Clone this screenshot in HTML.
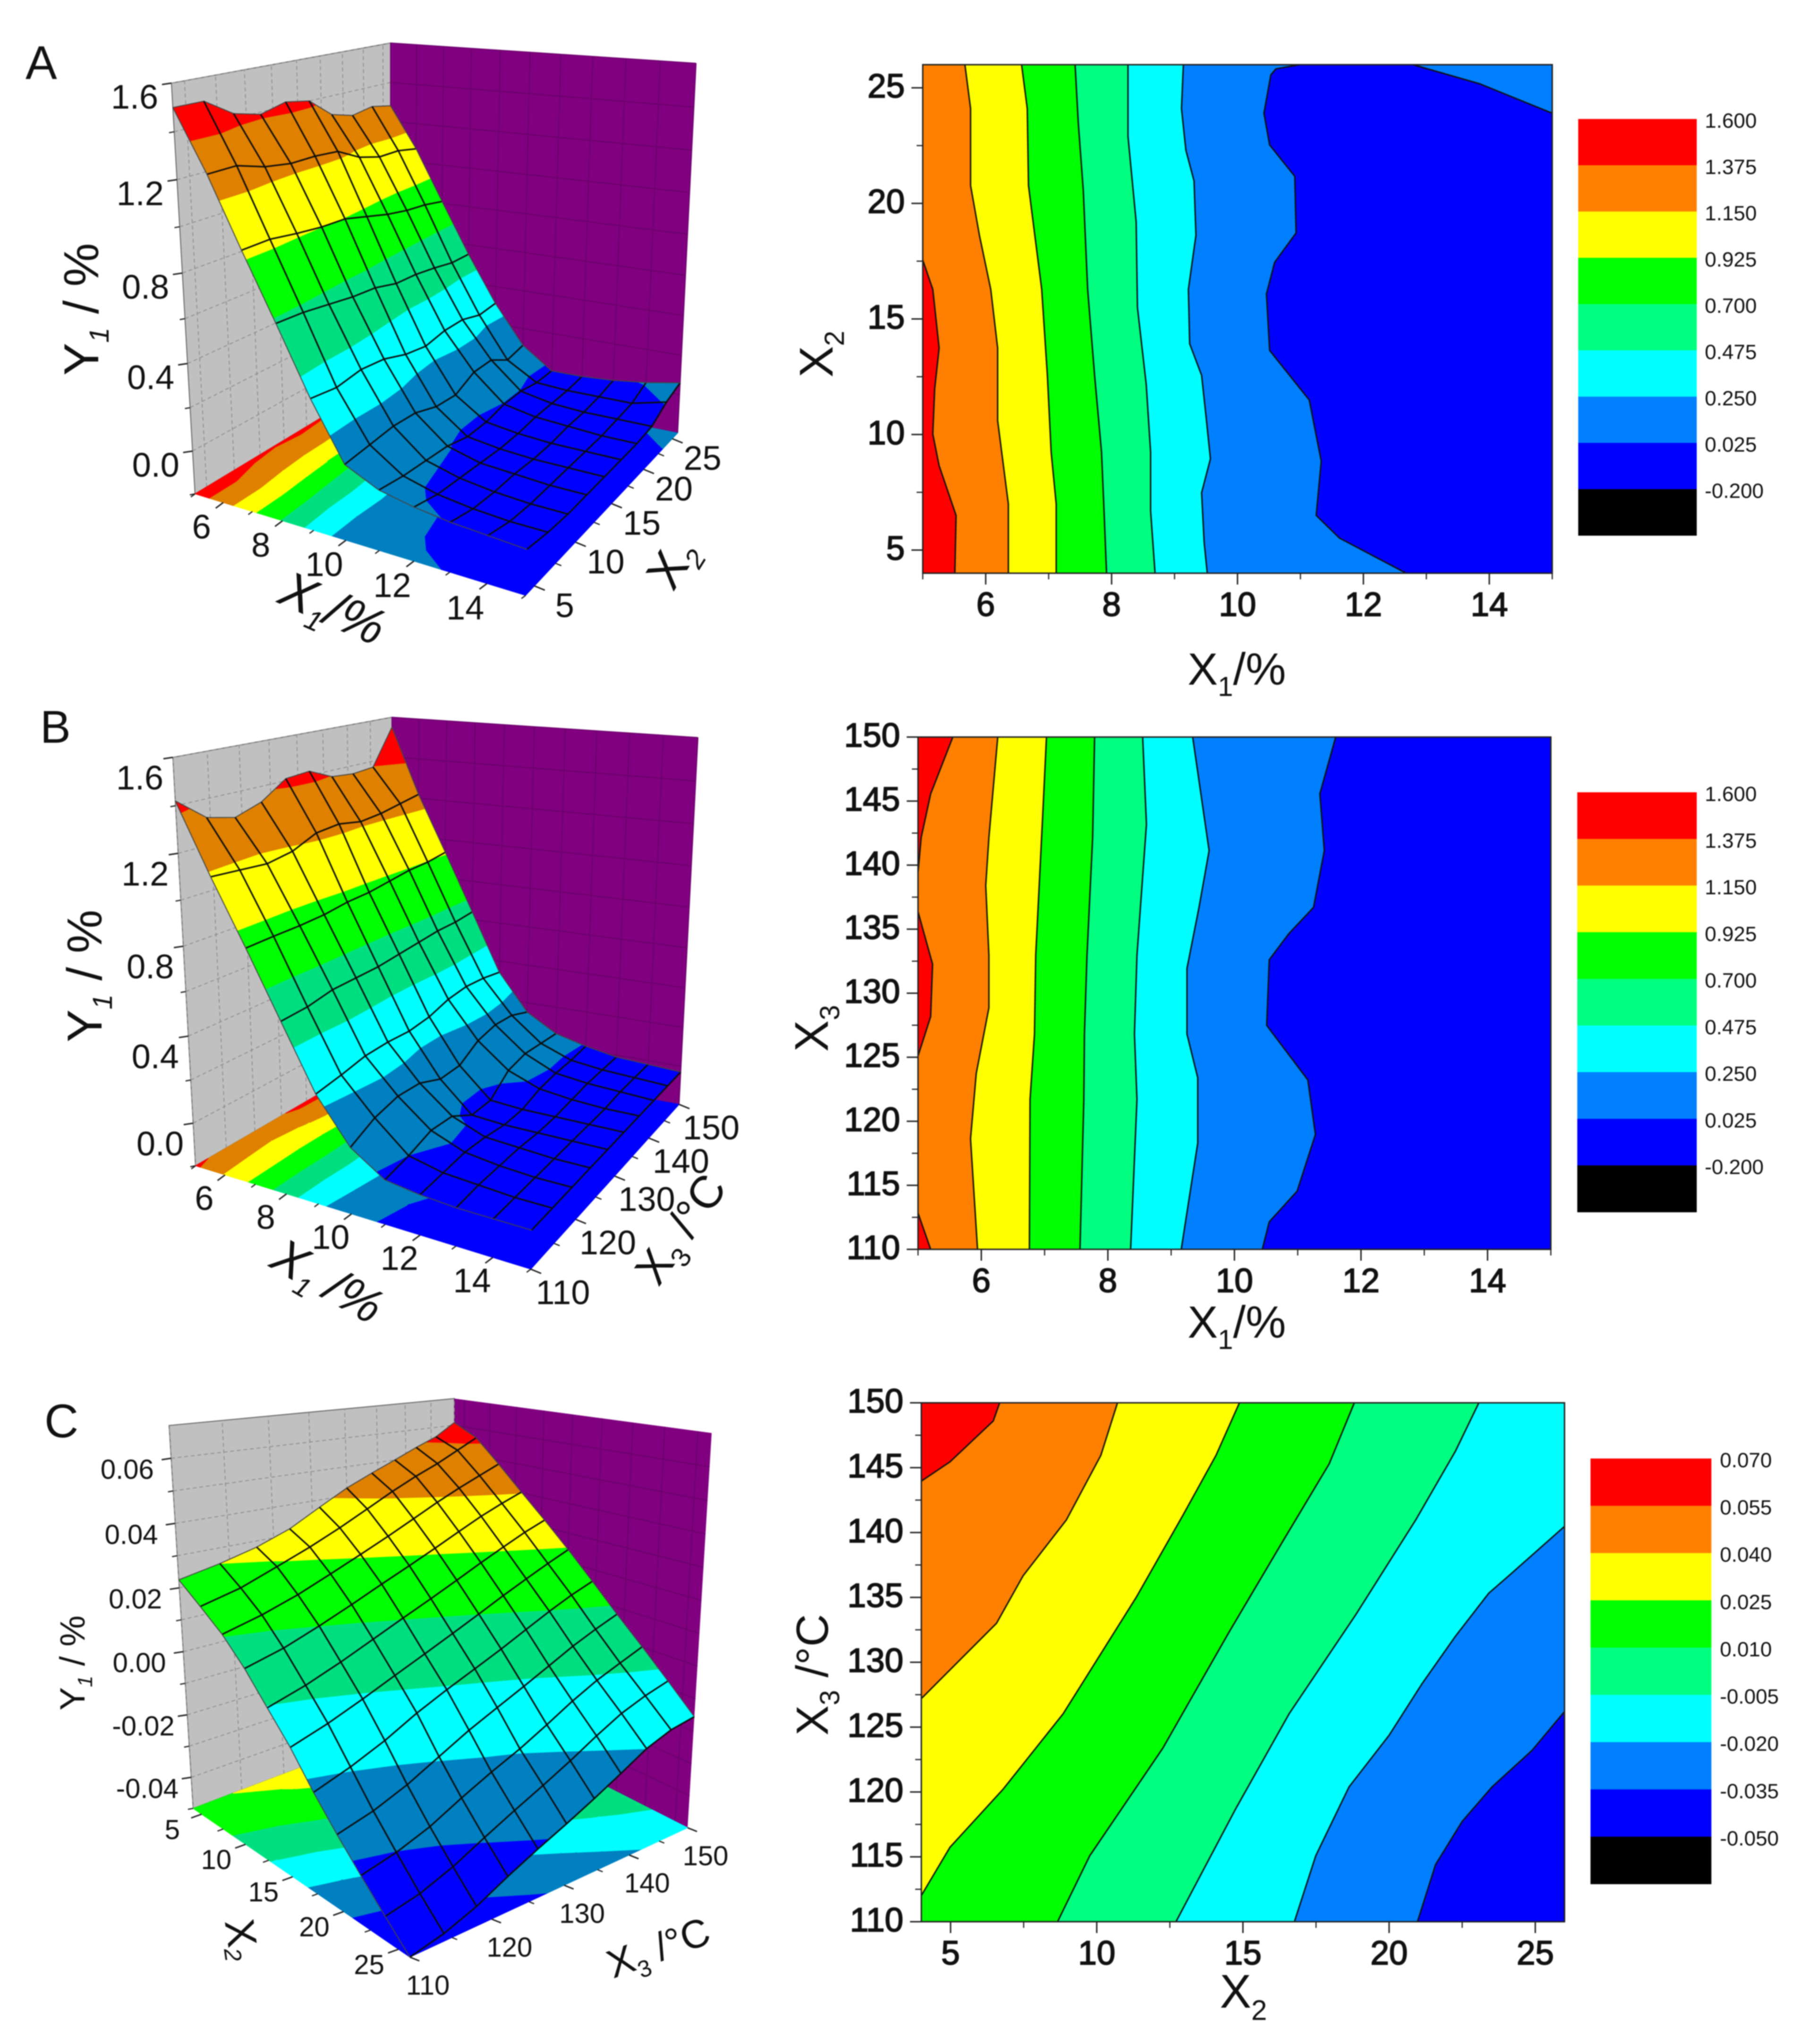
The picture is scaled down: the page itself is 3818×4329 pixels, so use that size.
<!DOCTYPE html>
<html lang="en">
<head>
<meta charset="utf-8">
<title>Response surface and contour plots</title>
<style>
html,body{margin:0;padding:0;background:#fff;}
#figure{display:block;width:3818px;height:4329px;filter:blur(1.1px);}
text{font-family:"Liberation Sans",sans-serif;fill:#111;}
</style>
</head>
<body>
<svg id="figure" xmlns="http://www.w3.org/2000/svg" width="3818" height="4329" viewBox="0 0 3818 4329">
<rect x="0" y="0" width="3818" height="4329" fill="#ffffff"/>

<g id="surfaceA"></g>
<g id="contourA"></g>
<g id="surfaceB"></g>
<g id="contourB"></g>
<g id="surfaceC"></g>
<g id="contourC"></g>

<text x="54" y="167" font-size="100">A</text>
<text x="85" y="1573" font-size="97">B</text>
<text x="94" y="3044" font-size="100">C</text>

<text transform="translate(208,655) rotate(-90)" text-anchor="middle" font-size="104">Y<tspan dy="22" font-size="58" font-style="italic">1</tspan><tspan dy="-22"> / %</tspan></text>
<text transform="translate(690,1322) rotate(24)" text-anchor="middle" font-size="108" font-style="italic">X<tspan dy="24" font-size="60">1</tspan><tspan dy="-24">/%</tspan></text>
<text transform="translate(1452,1212) rotate(-58)" text-anchor="middle" font-size="104">X<tspan dy="22" font-size="58" font-style="italic">2</tspan></text>

<text transform="translate(215,2067) rotate(-90)" text-anchor="middle" font-size="104">Y<tspan dy="22" font-size="58" font-style="italic">1</tspan><tspan dy="-22"> / %</tspan></text>
<text transform="translate(676,2744) rotate(30)" text-anchor="middle" font-size="104" font-style="italic">X<tspan dy="22" font-size="58">1</tspan><tspan dy="-22"> /%</tspan></text>
<text transform="translate(1468,2622) rotate(-55)" text-anchor="middle" font-size="96">X<tspan dy="22" font-size="58">3</tspan><tspan dy="-22"> /°C</tspan></text>

<text transform="translate(179,3522) rotate(-90)" text-anchor="middle" font-size="74">Y<tspan dy="16" font-size="44" font-style="italic">1</tspan><tspan dy="-16"> / %</tspan></text>
<text transform="translate(482,4112) rotate(82)" text-anchor="middle" font-size="88">X<tspan dy="10" font-size="50" font-style="italic">2</tspan></text>
<text transform="translate(1404,4152) rotate(-20)" text-anchor="middle" font-size="84">X<tspan dy="20" font-size="50">3</tspan><tspan dy="-20"> /°C</tspan></text>

<text x="2619" y="1450" text-anchor="middle" font-size="96">X<tspan dy="24" font-size="58">1</tspan><tspan dy="-24">/%</tspan></text>
<text transform="translate(1763,750) rotate(-90)" text-anchor="middle" font-size="100">X<tspan dy="24" font-size="58">2</tspan></text>

<text x="2619" y="2833" text-anchor="middle" font-size="96">X<tspan dy="24" font-size="58">1</tspan><tspan dy="-24">/%</tspan></text>
<text transform="translate(1753,2178) rotate(-90)" text-anchor="middle" font-size="100">X<tspan dy="24" font-size="58">3</tspan></text>

<text x="2633" y="4252" text-anchor="middle" font-size="100">X<tspan dy="26" font-size="60">2</tspan></text>
<text transform="translate(1753,3547) rotate(-90)" text-anchor="middle" font-size="96">X<tspan dy="24" font-size="58">3</tspan><tspan dy="-24"> /°C</tspan></text>
</svg>

<script>
/* ---------- shared data ---------- */
const contourColors = ['#0000ff','#0080ff','#00ffff','#00ff80','#00ff00','#ffff00','#ff8000','#ff0000'];
const surfaceColors = ['#0000ff','#0080c0','#00ffff','#00df80','#00ff00','#ffff00','#df8000','#ff0000'];
const legendColors = ['#ff0000','#ff8000','#ffff00','#00ff00','#00ff80','#00ffff','#0080ff','#0000ff','#000000'];

/* ---------- panel A data ---------- */
const aLevels = [0.025,0.25,0.475,0.7,0.925,1.15,1.375];
const aLegendLabels = ['1.600','1.375','1.150','0.925','0.700','0.475','0.250','0.025','-0.200'];
const aXTicks = [6,8,10,12,14];
const aXMinorTicks = [5,7,9,11,13,15];
const aYTicks = [5,10,15,20,25];
const aYMinorTicks = [7.5,12.5,17.5,22.5];
const aZTicks = [0,0.4,0.8,1.2,1.6];
const aZMinorTicks = [-0.2,0.2,0.6,1.0,1.4];
const aBoundaryRed = [[5,17.55],[5.16,16.28],[5.26,13.74],[5.19,11.98],[5.16,10.02],[5.26,8.65],[5.53,6.5],[5.51,4]];
const aBoundaryOrange = [[5.67,26],[5.76,24.1],[5.76,20.77],[5.9,18.62],[6.08,16.28],[6.19,13.74],[6.19,10.6],[6.36,6.99],[6.36,4]];
const aBoundaryYellow = [[6.57,26],[6.66,24.1],[6.68,20.77],[6.78,18.62],[6.89,16.28],[6.98,12.56],[7.04,9.24],[7.12,6.99],[7.12,4]];
const aBoundaryGreen = [[7.42,26],[7.47,23.5],[7.55,20.58],[7.62,16.28],[7.73,12.56],[7.84,9.24],[7.88,6.7],[7.92,4]];
const aBoundarySpring = [[8.26,26],[8.26,22.9],[8.39,19.2],[8.41,15.5],[8.55,12.17],[8.62,9.24],[8.62,6.7],[8.69,4]];
const aBoundaryCyan = [[9.14,26],[9.11,24.1],[9.18,22.3],[9.31,20.97],[9.34,18.62],[9.22,16.28],[9.24,13.93],[9.43,12.56],[9.5,10.8],[9.57,8.95],[9.43,7.48],[9.47,5.33],[9.52,4]];
const aBoundaryAzure = [[10.99,26],[10.61,25.82],[10.53,25.56],[10.42,23.9],[10.51,22.53],[10.91,21.17],[10.93,18.72],[10.59,17.45],[10.46,16.08],[10.51,13.64],[11.14,11.49],[11.33,8.85],[11.25,6.5],[11.62,5.52],[12.68,4]];
const aCornerAzure = [[12.79,26],[13.85,25.17],[15,23.9]];
const aSurfaceX = [5,6,7,8,9,10,11,12,13,14,15];
const aSurfaceY = [4,6.44,8.89,11.33,13.78,16.22,18.67,21.11,23.56,26];
const aSurfaceZ = [
 [1.50,1.50,1.42,1.39,1.42,1.40,1.31,1.28,1.30,1.28],
 [1.25,1.25,1.21,1.19,1.19,1.18,1.12,1.09,1.09,1.07],
 [0.96,0.96,0.94,0.925,0.92,0.89,0.86,0.84,0.83,0.81],
 [0.68,0.67,0.65,0.63,0.62,0.59,0.585,0.57,0.55,0.55],
 [0.39,0.37,0.385,0.37,0.33,0.31,0.33,0.33,0.30,0.31],
 [0.14,0.15,0.16,0.15,0.11,0.10,0.15,0.15,0.09,0.11],
 [0.07,0.05,0.04,0.03,0.0,0.0,0.02,0.02,0.0,0.0],
 [0.04,0.01,0.0,-0.01,-0.02,-0.02,-0.01,-0.01,-0.01,0.0],
 [0.02,-0.01,-0.02,-0.02,-0.03,-0.03,-0.02,-0.02,-0.01,0.01],
 [0.01,-0.02,-0.03,-0.03,-0.03,-0.03,-0.03,-0.02,-0.01,0.03],
 [0.0,-0.02,-0.03,-0.03,-0.03,-0.03,-0.03,-0.02,0.03,0.06]
];

/* ---------- panel B data ---------- */
const bLevels = [0.025,0.25,0.475,0.7,0.925,1.15,1.375];
const bLegendLabels = ['1.600','1.375','1.150','0.925','0.700','0.475','0.250','0.025','-0.200'];
const bXTicks = [6,8,10,12,14];
const bXMinorTicks = [5,7,9,11,13,15];
const bYTicks = [110,115,120,125,130,135,140,145,150];
const bYMinorTicks = [112.5,117.5,122.5,127.5,132.5,137.5,142.5,147.5];
const bSurfaceYTicks = [110,120,130,140,150];
const bSurfaceYMinorTicks = [115,125,135,145];
const bZTicks = [0,0.4,0.8,1.2,1.6];
const bZMinorTicks = [-0.2,0.2,0.6,1.0,1.4];
const bBoundaryRedTop = [[5.55,150],[5.2,145.57],[5.05,142.16],[5,139.43]];
const bBoundaryRedMiddle = [[5,136.36],[5.23,132.27],[5.2,128.18],[5,125.1]];
const bBoundaryRedBottom = [[5,112.83],[5.2,110]];
const bBoundaryOrange = [[6.26,150],[6.12,142.16],[6.07,138.41],[6.12,132.95],[6.12,128.86],[5.92,123.74],[5.83,118.63],[5.94,110]];
const bBoundaryYellow = [[7.03,150],[6.97,143.86],[6.86,132.95],[6.84,126.81],[6.77,121.7],[6.76,110]];
const bBoundaryGreen = [[7.79,150],[7.76,142.16],[7.67,132.95],[7.63,126.81],[7.62,121.7],[7.56,110]];
const bBoundarySpring = [[8.55,150],[8.61,143.18],[8.46,132.95],[8.42,126.81],[8.46,121.7],[8.36,110]];
const bBoundaryCyan = [[9.34,150],[9.6,141.13],[9.44,136.7],[9.25,131.93],[9.25,126.81],[9.42,123.4],[9.42,118.29],[9.16,110]];
const bBoundaryAzure = [[11.6,150],[11.35,145.57],[11.42,141.13],[11.25,136.7],[10.86,134.65],[10.55,132.61],[10.51,127.49],[11.16,123.23],[11.28,118.97],[10.99,114.54],[10.55,112.15],[10.44,110]];
const bSurfaceX = [5,6,7,8,9,10,11,12,13,14,15];
const bSurfaceY = [110,114.44,118.89,123.33,127.78,132.22,136.67,141.11,145.56,150];
const bSurfaceZ = [
 [1.42,1.32,1.29,1.33,1.41,1.42,1.37,1.36,1.37,1.55],
 [1.13,1.12,1.11,1.13,1.18,1.19,1.17,1.18,1.20,1.22],
 [0.858,0.86,0.86,0.865,0.88,0.885,0.90,0.915,0.92,0.935],
 [0.576,0.58,0.60,0.60,0.60,0.61,0.62,0.63,0.63,0.64],
 [0.295,0.31,0.33,0.33,0.32,0.33,0.36,0.37,0.36,0.34],
 [0.10,0.155,0.18,0.17,0.12,0.12,0.18,0.20,0.19,0.15],
 [0.0,0.024,0.06,0.05,-0.02,-0.02,0.06,0.08,0.07,0.06],
 [-0.02,-0.01,0.0,-0.01,-0.03,-0.03,0.0,0.01,0.01,0.02],
 [-0.03,-0.02,-0.02,-0.02,-0.03,-0.03,-0.02,-0.01,-0.01,-0.01],
 [-0.03,-0.03,-0.03,-0.03,-0.03,-0.03,-0.03,-0.02,-0.02,-0.02],
 [-0.03,-0.03,-0.03,-0.03,-0.03,-0.03,-0.03,-0.03,-0.03,-0.03]
];

/* ---------- panel C data ---------- */
const cLevels = [-0.035,-0.02,-0.005,0.01,0.025,0.04,0.055];
const cLegendLabels = ['0.070','0.055','0.040','0.025','0.010','-0.005','-0.020','-0.035','-0.050'];
const cXTicks = [5,10,15,20,25];
const cXMinorTicks = [7.5,12.5,17.5,22.5];
const cYTicks = [110,115,120,125,130,135,140,145,150];
const cYMinorTicks = [112.5,117.5,122.5,127.5,132.5,137.5,142.5,147.5];
const cSurfaceYTicks = [110,120,130,140,150];
const cSurfaceYMinorTicks = [115,125,135,145];
const cZTicks = [-0.04,-0.02,0,0.02,0.04,0.06];
const cZMinorTicks = [-0.05,-0.03,-0.01,0.01,0.03,0.05];
const cBoundaryRed = [[6.68,150],[6.46,148.6],[4.98,145.45],[4,143.96]];
const cBoundaryOrange = [[10.71,150],[10.14,145.95],[8.96,140.97],[7.48,136.66],[6.57,133],[4,127.2]];
const cBoundaryYellow = [[14.88,150],[14.08,145.95],[12.94,141.3],[11.35,135],[8.85,126.03],[6.8,120.22],[4.98,115.74],[4,112.02]];
const cBoundaryGreen = [[18.81,150],[17.95,145.29],[16.36,139.31],[14.53,132.34],[12.26,123.38],[9.76,115.08],[8.66,110]];
const cBoundarySpring = [[23.07,150],[22.27,146.28],[20.91,140.97],[18.86,133.67],[16.58,126.03],[14.76,118.73],[12.71,110]];
const cBoundaryCyan = [[26,140.47],[24.09,136.66],[23.41,135.33],[22.27,132.01],[21.13,128.36],[20,124.37],[18.63,120.39],[17.49,115.08],[16.76,110]];
const cBoundaryAzure = [[26,126.2],[24.89,123.21],[23.52,120.39],[22.5,117.73],[21.59,114.41],[20.97,110]];
const cSurfaceX = [4,6.2,8.4,10.6,12.8,15,17.2,19.4,21.6,23.8,26];
const cSurfaceY = [110,114,118,122,126,130,134,138,142,146,150];
const cSurfaceZByX3 = [
 [0.0225,0.0165,0.0105,0.0030,-0.0055,-0.0136,-0.0227,-0.0305,-0.0375,-0.0440,-0.0500],
 [0.0250,0.0195,0.0135,0.0060,-0.0022,-0.0102,-0.0192,-0.0278,-0.0352,-0.0420,-0.0480],
 [0.0280,0.0238,0.0172,0.0100,0.0018,-0.0062,-0.0150,-0.0240,-0.0318,-0.0386,-0.0448],
 [0.0320,0.0280,0.0215,0.0142,0.0061,-0.0020,-0.0100,-0.0192,-0.0272,-0.0342,-0.0405],
 [0.0375,0.0325,0.0258,0.0185,0.0103,0.0020,-0.0058,-0.0145,-0.0230,-0.0300,-0.0365],
 [0.0426,0.0372,0.0300,0.0225,0.0143,0.0060,-0.0020,-0.0105,-0.0192,-0.0260,-0.0328],
 [0.0465,0.0418,0.0343,0.0265,0.0183,0.0100,0.0018,-0.0066,-0.0148,-0.0218,-0.0288],
 [0.0500,0.0458,0.0385,0.0305,0.0223,0.0140,0.0058,-0.0026,-0.0102,-0.0172,-0.0245],
 [0.0535,0.0492,0.0422,0.0343,0.0260,0.0177,0.0097,0.0014,-0.0062,-0.0130,-0.0200],
 [0.0565,0.0530,0.0455,0.0375,0.0295,0.0212,0.0132,0.0048,-0.0030,-0.0100,-0.0170],
 [0.0610,0.0567,0.0486,0.0403,0.0324,0.0244,0.0161,0.0078,0.0001,-0.0077,-0.0155]
];

/* ---------- drawing helpers ---------- */
const SVG_NS = 'http://www.w3.org/2000/svg';

function shape(tag, parent, attrs) {
  const el = document.createElementNS(SVG_NS, tag);
  Object.keys(attrs).forEach(function (k) { el.setAttribute(k, attrs[k]); });
  parent.appendChild(el);
  return el;
}
function pts(list) {
  return list.map(function (p) { return p[0].toFixed(1) + ',' + p[1].toFixed(1); }).join(' ');
}
function tickLine(parent, a, dx, dy, width, name) {
  const el = shape('line', parent, { x1: a[0], y1: a[1], x2: a[0] + dx, y2: a[1] + dy, stroke: '#222', 'stroke-width': width });
  
  
}
function tickText(parent, x, y, label, size, anchor, heavy, name) {
  const el = shape('text', parent, { x: x, y: y, 'font-size': size, 'text-anchor': anchor, 'dominant-baseline': 'central' });
  if (heavy) {
    el.setAttribute('stroke', '#111');
    el.setAttribute('stroke-width', heavy);
  }
  el.textContent = label;
  
  
}

/* ---------- contour panels ---------- */
function drawContour(group, frame, xDom, yDom, xTicks, xMinor, yTicks, yMinor, boundaries, islands) {
  const sx = function (v) { return frame.left + (v - xDom[0]) / (xDom[1] - xDom[0]) * (frame.right - frame.left); };
  const sy = function (v) { return frame.bottom - (v - yDom[0]) / (yDom[1] - yDom[0]) * (frame.bottom - frame.top); };
  const toPx = function (p) { return [sx(p[0]), sy(p[1])]; };
  const base = shape('rect', group, { x: frame.left, y: frame.top, width: frame.right - frame.left, height: frame.bottom - frame.top, fill: contourColors[0] });
  
  

  islands.forEach(function (isl) {
    const closed = isl.line.concat([[xDom[1], yDom[1]]]).map(toPx);
    const fillEl = shape('polygon', group, { points: pts(closed), fill: contourColors[isl.band] });
    
    
  });

  boundaries.forEach(function (b) {
    b.lines.forEach(function (line) {
      const poly = [];
      if (line[0][0] === xDom[1]) poly.push([xDom[1], yDom[1]]);
      line.forEach(function (p) { poly.push(p); });
      poly.push([xDom[0], yDom[0]]);
      poly.push([xDom[0], yDom[1]]);
      const fillEl = shape('polygon', group, { points: pts(poly.map(toPx)), fill: contourColors[b.band] });
      
      
    });
  });
  boundaries.forEach(function (b) {
    b.lines.forEach(function (line) {
      const lineEl = shape('polyline', group, { points: pts(line.map(toPx)), fill: 'none', stroke: '#111', 'stroke-width': 3, 'stroke-linejoin': 'round' });
      
      
    });
  });
  islands.forEach(function (isl) {
    const lineEl = shape('polyline', group, { points: pts(isl.line.map(toPx)), fill: 'none', stroke: '#111', 'stroke-width': 3 });
    
    
  });

  const border = shape('rect', group, { x: frame.left, y: frame.top, width: frame.right - frame.left, height: frame.bottom - frame.top, fill: 'none', stroke: '#222', 'stroke-width': 3 });
  
  

  xTicks.forEach(function (v) {
    tickLine(group, [sx(v), frame.bottom], 0, 24, 3, 'x-axis-major-tick');
    tickText(group, sx(v), frame.bottom + 67, String(v), 71, 'middle', 2, 'x-tick-label');
  });
  xMinor.forEach(function (v) { tickLine(group, [sx(v), frame.bottom], 0, 13, 2.5, 'x-axis-minor-tick'); });
  yTicks.forEach(function (v) {
    tickLine(group, [frame.left, sy(v)], -24, 0, 3, 'y-axis-major-tick');
    tickText(group, frame.left - 38, sy(v) - 3, String(v), 71, 'end', 2, 'y-tick-label');
  });
  yMinor.forEach(function (v) { tickLine(group, [frame.left, sy(v)], -13, 0, 2.5, 'y-axis-minor-tick'); });
}

function drawLegend(group, box, labels) {
  const cell = (box.bottom - box.top) / labels.length;
  labels.forEach(function (label, i) {
    const r = shape('rect', group, { x: box.left, y: box.top + i * cell, width: box.right - box.left, height: cell + 0.5, fill: legendColors[i] });
    
    
    tickText(group, box.labelX, box.top + i * cell + 4, label, 44, 'start', 0, 'legend-label');
  });
}

/* ---------- 3D panels ---------- */
function warp(t, a) { return t * a / (1 + (a - 1) * t); }

function makeProjector(c, xDom, yDom, zDom, w) {
  return function (x, y, z) {
    const u = warp((x - xDom[0]) / (xDom[1] - xDom[0]), w.x);
    const v = warp((y - yDom[0]) / (yDom[1] - yDom[0]), w.yFar + (w.yNear - w.yFar) * u);
    const t = warp((z - zDom[0]) / (zDom[1] - zDom[0]), w.z);
    const out = [0, 0];
    for (let k = 0; k < 2; k++) {
      const lo = (1 - v) * ((1 - u) * c.c000[k] + u * c.c100[k]) + v * ((1 - u) * c.c010[k] + u * c.c110[k]);
      const hi = (1 - v) * ((1 - u) * c.c001[k] + u * c.c101[k]) + v * ((1 - u) * c.c011[k] + u * c.c111[k]);
      out[k] = (1 - t) * lo + t * hi;
    }
    return out;
  };
}

function clipSide(poly, limit, keepAbove) {
  const out = [];
  for (let i = 0; i < poly.length; i++) {
    const a = poly[i];
    const b = poly[(i + 1) % poly.length];
    const aIn = keepAbove ? a[2] >= limit : a[2] <= limit;
    const bIn = keepAbove ? b[2] >= limit : b[2] <= limit;
    if (aIn) out.push(a);
    if (aIn !== bIn) {
      const t = (limit - a[2]) / (b[2] - a[2]);
      out.push([a[0] + t * (b[0] - a[0]), a[1] + t * (b[1] - a[1]), limit]);
    }
  }
  return out;
}

function drawBands(group, xs, ys, grid, levels, toPx, faceName) {
  const edges = [-Infinity].concat(levels, [Infinity]);
  for (let i = 0; i < xs.length - 1; i++) {
    for (let j = ys.length - 2; j >= 0; j--) {
      const quad = [
        [xs[i], ys[j], grid[i][j]],
        [xs[i + 1], ys[j], grid[i + 1][j]],
        [xs[i + 1], ys[j + 1], grid[i + 1][j + 1]],
        [xs[i], ys[j + 1], grid[i][j + 1]]
      ];
      for (let b = 0; b < edges.length - 1; b++) {
        let part = quad;
        if (edges[b] !== -Infinity) part = clipSide(part, edges[b], true);
        if (part.length && edges[b + 1] !== Infinity) part = clipSide(part, edges[b + 1], false);
        if (part.length < 3) continue;
        const poly = shape('polygon', group, {
          points: pts(part.map(toPx)),
          fill: surfaceColors[b],
          stroke: surfaceColors[b],
          'stroke-width': 1.4,
          'stroke-linejoin': 'round'
        });
        
        
      }
    }
  }
}

function drawSurfacePanel(group, proj, xDom, yDom, zDom, xs, ys, grid, levels, opt) {
  const xa = xDom[0], xb = xDom[1], ya = yDom[0], yb = yDom[1], za = zDom[0], zb = zDom[1];

  const leftWall = shape('polygon', group, { points: pts([proj(xa, ya, za), proj(xa, yb, za), proj(xa, yb, zb), proj(xa, ya, zb)]), fill: '#c0c0c0', stroke: '#666', 'stroke-width': 2 });
  
  
  const backWall = shape('polygon', group, { points: pts([proj(xa, yb, za), proj(xb, yb, za), proj(xb, yb, zb), proj(xa, yb, zb)]), fill: '#800080' });
  
  

  opt.yWall.forEach(function (v) {
    const a = proj(xa, v, za), b = proj(xa, v, zb);
    const l = shape('line', group, { x1: a[0], y1: a[1], x2: b[0], y2: b[1], stroke: '#8c8c8c', 'stroke-width': 1.8, 'stroke-dasharray': '8 6' });
    
    
  });
  opt.zWall.forEach(function (v) {
    const a = proj(xa, ya, v), b = proj(xa, yb, v);
    const l = shape('line', group, { x1: a[0], y1: a[1], x2: b[0], y2: b[1], stroke: '#8c8c8c', 'stroke-width': 1.8, 'stroke-dasharray': '8 6' });
    
    
  });
  opt.xWall.forEach(function (v) {
    const a = proj(v, yb, za), b = proj(v, yb, zb);
    const l = shape('line', group, { x1: a[0], y1: a[1], x2: b[0], y2: b[1], stroke: '#6a006a', 'stroke-width': 2 });
    
    
  });
  opt.zWall.forEach(function (v) {
    const a = proj(xa, yb, v), b = proj(xb, yb, v);
    const l = shape('line', group, { x1: a[0], y1: a[1], x2: b[0], y2: b[1], stroke: '#6a006a', 'stroke-width': 2 });
    
    
  });

  drawBands(group, xs, ys, grid, levels, function (p) { return proj(p[0], p[1], za); }, 'floor-contour-facet');
  drawBands(group, xs, ys, grid, levels, function (p) { return proj(p[0], p[1], p[2]); }, 'surface-band-facet');

  for (let i = 0; i < xs.length; i++) {
    const line = ys.map(function (y, j) { return proj(xs[i], y, grid[i][j]); });
    const edge = i === 0;
    const gl = shape('polyline', group, { points: pts(line), fill: 'none', stroke: edge ? '#444' : '#0c0c0c', 'stroke-width': edge ? 2 : 3.2, 'stroke-linejoin': 'round' });
    
    
  }
  for (let j = 0; j < ys.length; j++) {
    const line = xs.map(function (x, i) { return proj(x, ys[j], grid[i][j]); });
    const edge = j === 0 || j === ys.length - 1;
    const gl = shape('polyline', group, { points: pts(line), fill: 'none', stroke: edge ? '#444' : '#0c0c0c', 'stroke-width': edge ? 2 : 3.2, 'stroke-linejoin': 'round' });
    
    
  }

  opt.zTicks.forEach(function (v) {
    const p = proj(xa, ya, v);
    tickLine(group, p, -20, 3, 3, 'z-axis-major-tick');
    tickText(group, p[0] + opt.zLabel[0], p[1] + opt.zLabel[1], v.toFixed(opt.zDigits), opt.font, 'middle', 0, 'z-tick-label');
  });
  opt.zMinor.forEach(function (v) { tickLine(group, proj(xa, ya, v), -11, 2, 2.5, 'z-axis-minor-tick'); });
  opt.xTicks.forEach(function (v) {
    const p = proj(v, ya, za);
    tickLine(group, p, opt.xTick[0], opt.xTick[1], 3, 'x-axis-major-tick');
    tickText(group, p[0] + opt.xLabel[0], p[1] + opt.xLabel[1], String(v), opt.font, 'middle', 0, 'x-tick-label');
  });
  opt.xMinor.forEach(function (v) { tickLine(group, proj(v, ya, za), opt.xTick[0] * 0.55, opt.xTick[1] * 0.55, 2.5, 'x-axis-minor-tick'); });
  opt.yTicks.forEach(function (v) {
    const p = proj(xb, v, za);
    tickLine(group, p, opt.yTick[0], opt.yTick[1], 3, 'y-axis-major-tick');
    tickText(group, p[0] + opt.yLabel[0], p[1] + opt.yLabel[1], String(v), opt.font, 'middle', 0, 'y-tick-label');
  });
  opt.yMinor.forEach(function (v) { tickLine(group, proj(xb, v, za), opt.yTick[0] * 0.55, opt.yTick[1] * 0.55, 2.5, 'y-axis-minor-tick'); });
}

/* ---------- panel A render ---------- */
drawSurfacePanel(
  document.getElementById('surfaceA'),
  makeProjector({ c000: [413, 1046], c100: [1113, 1261], c110: [1435, 917], c010: [827, 796], c001: [363, 176], c101: [1139, 324], c111: [1474, 134], c011: [827, 91] }, [5, 15], [4, 26], [-0.2, 1.6], { x: 0.84, yFar: 1.33, yNear: 1.3, z: 0.93 }),
  [5, 15], [4, 26], [-0.2, 1.6], aSurfaceX, aSurfaceY, aSurfaceZ, aLevels,
  { xWall: aXTicks.concat(aXMinorTicks), yWall: aYTicks.concat(aYMinorTicks), zWall: aZTicks.concat(aZMinorTicks), zTicks: aZTicks, zMinor: aZMinorTicks, zDigits: 1,
    xTicks: aXTicks, xMinor: aXMinorTicks, yTicks: aYTicks, yMinor: aYMinorTicks, font: 72,
    zLabel: [-78, 30], xLabel: [-46, 52], yLabel: [64, 42], xTick: [-16, 12], yTick: [22, 9] }
);
drawContour(document.getElementById('contourA'), { left: 1954, right: 3287, top: 137, bottom: 1214 }, [5, 15], [4, 26], aXTicks, aXMinorTicks, aYTicks, aYMinorTicks,
  [{ band: 1, lines: [aBoundaryAzure] }, { band: 2, lines: [aBoundaryCyan] }, { band: 3, lines: [aBoundarySpring] }, { band: 4, lines: [aBoundaryGreen] }, { band: 5, lines: [aBoundaryYellow] }, { band: 6, lines: [aBoundaryOrange] }, { band: 7, lines: [aBoundaryRed] }],
  [{ band: 1, line: aCornerAzure }]);
drawLegend(document.getElementById('contourA'), { left: 3342, right: 3593, top: 252, bottom: 1134, labelX: 3610 }, aLegendLabels);

/* ---------- panel B render ---------- */
drawSurfacePanel(
  document.getElementById('surfaceB'),
  makeProjector({ c000: [414, 2469], c100: [1124, 2688], c110: [1438, 2339], c010: [830, 2227], c001: [366, 1604], c101: [1144, 1754], c111: [1478, 1562], c011: [830, 1519] }, [5, 15], [110, 150], [-0.2, 1.6], { x: 0.87, yFar: 1.3, yNear: 1.3, z: 0.93 }),
  [5, 15], [110, 150], [-0.2, 1.6], bSurfaceX, bSurfaceY, bSurfaceZ, bLevels,
  { xWall: bXTicks.concat(bXMinorTicks), yWall: bSurfaceYTicks.concat(bSurfaceYMinorTicks), zWall: bZTicks.concat(bZMinorTicks), zTicks: bZTicks, zMinor: bZMinorTicks, zDigits: 1,
    xTicks: bXTicks, xMinor: bXMinorTicks, yTicks: bSurfaceYTicks, yMinor: bSurfaceYMinorTicks, font: 72,
    zLabel: [-70, 44], xLabel: [-44, 50], yLabel: [68, 50], xTick: [-16, 12], yTick: [22, 9] }
);
drawContour(document.getElementById('contourB'), { left: 1944, right: 3284, top: 1561, bottom: 2646 }, [5, 15], [110, 150], bXTicks, bXMinorTicks, bYTicks, bYMinorTicks,
  [{ band: 1, lines: [bBoundaryAzure] }, { band: 2, lines: [bBoundaryCyan] }, { band: 3, lines: [bBoundarySpring] }, { band: 4, lines: [bBoundaryGreen] }, { band: 5, lines: [bBoundaryYellow] }, { band: 6, lines: [bBoundaryOrange] }, { band: 7, lines: [bBoundaryRedTop, bBoundaryRedMiddle, bBoundaryRedBottom] }],
  []);
drawLegend(document.getElementById('contourB'), { left: 3340, right: 3593, top: 1678, bottom: 2567, labelX: 3610 }, bLegendLabels);

/* ---------- panel C render ---------- */
const cSurfaceGrid = cSurfaceX.map(function (_, i) { return cSurfaceZByX3.map(function (row) { return row[i]; }); });
drawSurfacePanel(
  document.getElementById('surfaceC'),
  makeProjector({ c000: [409, 3830], c100: [868, 4145], c110: [1456, 3871], c010: [962, 3620], c001: [358, 3019], c101: [889, 3091], c111: [1507, 3035], c011: [962, 2962] }, [4, 26], [110, 150], [-0.05, 0.07], { x: 0.85, yFar: 1.6, yNear: 1.25, z: 0.97 }),
  [4, 26], [110, 150], [-0.05, 0.07], cSurfaceX, cSurfaceY, cSurfaceGrid, cLevels,
  { xWall: cXTicks.concat(cXMinorTicks), yWall: cSurfaceYTicks.concat(cSurfaceYMinorTicks), zWall: cZTicks.concat(cZMinorTicks), zTicks: cZTicks, zMinor: cZMinorTicks, zDigits: 2,
    xTicks: cXTicks, xMinor: cXMinorTicks, yTicks: cSurfaceYTicks, yMinor: cSurfaceYMinorTicks, font: 58,
    zLabel: [-93, 24], xLabel: [-62, 33], yLabel: [38, 60], xTick: [-22, 8], yTick: [20, 8] }
);
drawContour(document.getElementById('contourC'), { left: 1951, right: 3313, top: 2971, bottom: 4070 }, [4, 26], [110, 150], cXTicks, cXMinorTicks, cYTicks, cYMinorTicks,
  [{ band: 1, lines: [cBoundaryAzure] }, { band: 2, lines: [cBoundaryCyan] }, { band: 3, lines: [cBoundarySpring] }, { band: 4, lines: [cBoundaryGreen] }, { band: 5, lines: [cBoundaryYellow] }, { band: 6, lines: [cBoundaryOrange] }, { band: 7, lines: [cBoundaryRed] }],
  []);
drawLegend(document.getElementById('contourC'), { left: 3368, right: 3624, top: 3089, bottom: 3990, labelX: 3642 }, cLegendLabels);
</script>
</body>
</html>
